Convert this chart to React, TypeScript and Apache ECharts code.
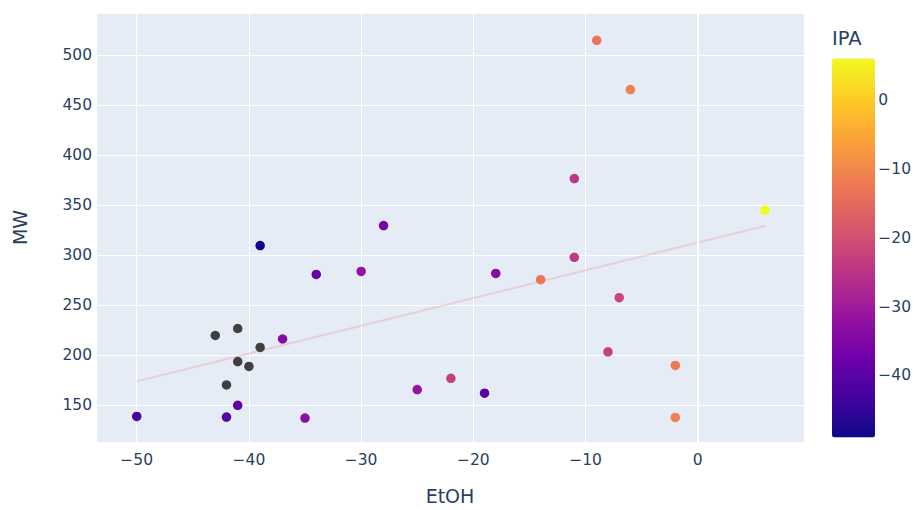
import React, { useEffect, useRef } from "react";
import * as echarts from "echarts";

// Points with an IPA value
const etoh = [-50, -39, -34, -30, -28, -37, -41, -42, -35, -25, -22, -19, -18, -14, -11, -11, -9, -6, -7, -8, -2, -2, 6];
const mw = [138.5, 309.5, 280.6, 283.6, 329.5, 216, 149.6, 137.8, 136.8, 165.4, 176.6, 161.8, 281.6, 275.4, 376.6, 297.7, 515, 465.7, 257.3, 203.2, 189.5, 137.5, 345];
const ipa = [-42, -49, -38, -32, -36, -34, -39, -41, -33, -32, -23, -40, -34, -13, -25, -24, -13, -11, -22, -23, -12, -11, 6];

// Points without an IPA value (drawn grey)
const etohNaN = [-43, -41, -39, -41, -40, -42];
const mwNaN = [219.5, 226.5, 207.5, 193.4, 188.5, 170];

// OLS trendline end points
const trendX = [-50, 6];
const trendY = [173.6, 329.2];

const ipaMin = -49;
const ipaMax = 6;

const plasma = ["#0d0887", "#46039f", "#7201a8", "#9c179e", "#bd3786", "#d8576b", "#ed7953", "#fb9f3a", "#fdca26", "#f0f921"];

const FONT = "DejaVu Sans, Verdana, sans-serif";
const TXT = "#2a3f5f";
const minus = (v: number) => (v < 0 ? "\u2212" + Math.abs(v) : String(v));

export default function App() {
  const ref = useRef<HTMLDivElement>(null);
  useEffect(() => {
    if (!ref.current) return;
    const chart = echarts.init(ref.current, undefined, { renderer: "svg" });
    chart.setOption({
      animation: false,
      backgroundColor: "#ffffff",
      textStyle: { fontFamily: FONT },
      title: {
        text: "IPA",
        left: 832,
        top: 28,
        padding: 0,
        textStyle: { color: TXT, fontSize: 19.5, fontWeight: "normal", fontFamily: FONT },
      },
      grid: [
        { left: 96, top: 13, width: 708, height: 436, show: true, backgroundColor: "#e5ecf6", borderWidth: 0 },
        { left: 832, top: 58.5, width: 43, height: 379, show: false },
      ],
      xAxis: [
        {
          type: "value",
          gridIndex: 0,
          min: -53.63,
          max: 9.47,
          minInterval: 10,
          maxInterval: 10,
          name: "EtOH",
          nameLocation: "middle",
          nameGap: 44,
          nameTextStyle: { color: TXT, fontSize: 19, fontFamily: FONT },
          axisLine: { show: false },
          axisTick: { show: false },
          axisLabel: { color: TXT, fontSize: 15.5, fontFamily: FONT, margin: 10, showMinLabel: false, showMaxLabel: false, formatter: minus },
          splitLine: { show: true, lineStyle: { color: "#ffffff", width: 1 } },
        },
        { type: "value", gridIndex: 1, show: false, min: 0, max: 1 },
      ],
      yAxis: [
        {
          type: "value",
          gridIndex: 0,
          min: 112.9,
          max: 542.3,
          minInterval: 50,
          maxInterval: 50,
          name: "MW",
          nameLocation: "middle",
          nameGap: 67,
          nameRotate: 90,
          nameTextStyle: { color: TXT, fontSize: 19, fontFamily: FONT },
          axisLine: { show: false },
          axisTick: { show: false },
          axisLabel: { color: TXT, fontSize: 15.5, fontFamily: FONT, margin: 4, showMinLabel: false, showMaxLabel: false, formatter: minus },
          splitLine: { show: true, lineStyle: { color: "#ffffff", width: 1 } },
        },
        {
          type: "value",
          gridIndex: 1,
          position: "right",
          min: ipaMin,
          max: ipaMax,
          minInterval: 10,
          maxInterval: 10,
          axisLine: { show: false },
          axisTick: { show: false },
          splitLine: { show: false },
          axisLabel: { color: TXT, fontSize: 15.5, fontFamily: FONT, margin: 4, showMinLabel: false, showMaxLabel: false, formatter: minus },
        },
      ],
      visualMap: {
        type: "continuous",
        seriesIndex: 0,
        dimension: 2,
        min: ipaMin,
        max: ipaMax,
        calculable: false,
        hoverLink: false,
        left: 832,
        top: 58.5,
        padding: 0,
        itemWidth: 43,
        itemHeight: 379,
        orient: "vertical",
        text: null,
        inRange: { color: plasma },
      },
      series: [
        {
          type: "scatter",
          xAxisIndex: 0,
          yAxisIndex: 0,
          symbolSize: 9.5,
          itemStyle: { opacity: 1 },
          data: etoh.map((x, i) => [x, mw[i], ipa[i]]),
          z: 3,
        },
        {
          type: "scatter",
          xAxisIndex: 0,
          yAxisIndex: 0,
          symbolSize: 9.5,
          itemStyle: { color: "#404040", opacity: 1 },
          data: etohNaN.map((x, i) => [x, mwNaN[i]]),
          z: 3,
        },
        {
          type: "line",
          xAxisIndex: 0,
          yAxisIndex: 0,
          symbol: "none",
          lineStyle: { color: "rgba(240, 100, 110, 0.22)", width: 2 },
          data: trendX.map((x, i) => [x, trendY[i]]),
          z: 2,
          markLine: {
            silent: true,
            symbol: "none",
            label: { show: false },
            lineStyle: { color: "#ffffff", width: 2, type: "solid" },
            data: [{ xAxis: 0 }],
          },
        },
      ],
    });
    return () => chart.dispose();
  }, []);
  return <div ref={ref} style={{ position: "fixed", left: 0, top: 0, width: 914, height: 510 }} />;
}
